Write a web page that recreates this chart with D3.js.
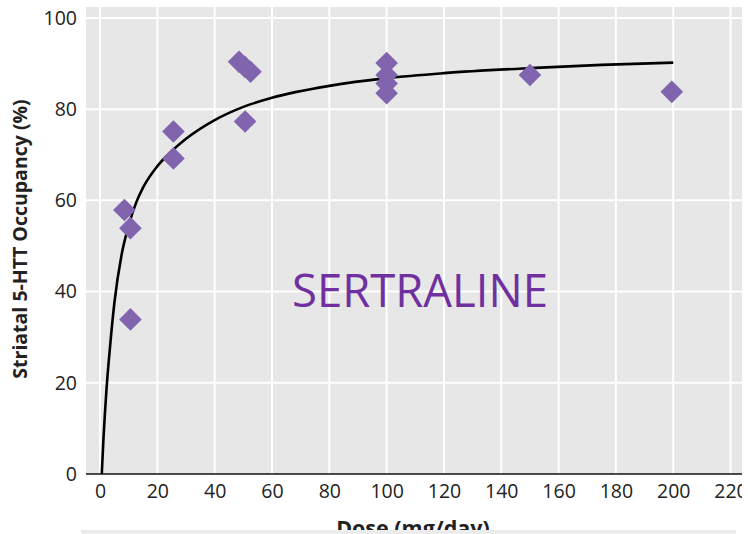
<!DOCTYPE html>
<html>
<head>
<meta charset="utf-8">
<script src="https://cdn.jsdelivr.net/npm/d3@7"></script>
<style>
  html, body { margin: 0; padding: 0; background: #ffffff; }
  svg { display: block; }
</style>
</head>
<body>
<svg id="chart" width="748" height="534"></svg>
<script>
// Sertraline dose vs. striatal 5-HTT occupancy
const doses     = [8.5, 10.6, 10.6, 25.6, 25.6, 48.5, 50.5, 52.5, 50.6, 100, 100, 100, 100, 150, 199.5];
const occupancy = [57.9, 53.9, 33.9, 75.1, 69.2, 90.4, 89.3, 88.2, 77.3, 90.1, 87.5, 85.6, 83.5, 87.5, 83.8];

// fitted occupancy curve, sampled along the dose axis
const curveDoses = [0.6, 1.2, 2.3, 3.5, 5, 7.5, 10, 12.6, 15, 20, 25, 30, 40, 50, 60, 80, 100, 120, 150, 175, 200];
const curveOcc   = [0, 7.8, 19, 28, 37.5, 48, 54.5, 59.5, 62.8, 67.5, 70.8, 73.5, 77.6, 80.5, 82.5, 85.1, 86.8, 87.9, 89.0, 89.7, 90.2];

const xTicks = [0, 20, 40, 60, 80, 100, 120, 140, 160, 180, 200, 220];
const yTicks = [0, 20, 40, 60, 80, 100];

const xTitle = "Dose (mg/day)";
const yTitle = "Striatal 5-HTT Occupancy (%)";
const drugLabel = "SERTRALINE";

const svg = d3.select("#chart");
const font = "'Open Sans', 'Noto Sans', sans-serif";

const panel = { left: 86, right: 742, top: 7, bottom: 474 };
const x = d3.scaleLinear().domain([-4.9, 224]).range([panel.left, panel.right]);
const y = d3.scaleLinear().domain([0, 102.4]).range([panel.bottom, panel.top]);

svg.append("defs").append("clipPath").attr("id", "clipRight")
  .append("rect").attr("x", 0).attr("y", 0).attr("width", panel.right).attr("height", 534);

const g = svg.append("g").attr("clip-path", "url(#clipRight)");

// panel background
g.append("rect")
  .attr("x", panel.left).attr("y", panel.top)
  .attr("width", panel.right - panel.left).attr("height", panel.bottom - panel.top)
  .attr("fill", "#e7e7e7");

// grid
g.append("g").selectAll("line").data(xTicks).join("line")
  .attr("x1", d => x(d)).attr("x2", d => x(d))
  .attr("y1", panel.top).attr("y2", panel.bottom)
  .attr("stroke", "#ffffff").attr("stroke-width", 2);
g.append("g").selectAll("line").data(yTicks.filter(d => d > 0)).join("line")
  .attr("x1", panel.left).attr("x2", panel.right)
  .attr("y1", d => y(d)).attr("y2", d => y(d))
  .attr("stroke", "#ffffff").attr("stroke-width", 2);

// x axis
const xAxis = g.append("g")
  .attr("transform", `translate(0,${panel.bottom})`)
  .call(d3.axisBottom(x).tickValues(xTicks).tickSize(0).tickPadding(8).tickFormat(d3.format("d")));
xAxis.select(".domain").remove();
xAxis.selectAll("text")
  .attr("font-family", font).attr("font-size", 19.5).attr("fill", "#222")
  .attr("dy", "0.72em").attr("y", 10);
g.append("line")
  .attr("x1", panel.left).attr("x2", panel.right)
  .attr("y1", panel.bottom).attr("y2", panel.bottom)
  .attr("stroke", "#111").attr("stroke-width", 1.6);

// y axis labels
const yAxis = g.append("g")
  .attr("transform", `translate(${panel.left},0)`)
  .call(d3.axisLeft(y).tickValues(yTicks).tickSize(0).tickPadding(9).tickFormat(d3.format("d")));
yAxis.select(".domain").remove();
yAxis.selectAll("text")
  .attr("font-family", font).attr("font-size", 19.5).attr("fill", "#222");

// drug name
g.append("text")
  .attr("x", 420).attr("y", 307)
  .attr("text-anchor", "middle")
  .attr("font-family", font).attr("font-size", 45)
  .attr("fill", "#7030a0")
  .attr("textLength", 256).attr("lengthAdjust", "spacingAndGlyphs")
  .text(drugLabel);

// fitted curve
const curvePts = curveDoses.map((d, i) => [d, curveOcc[i]]);
g.append("path")
  .datum(curvePts)
  .attr("fill", "none")
  .attr("stroke", "#000")
  .attr("stroke-width", 2.6)
  .attr("d", d3.line().x(d => x(d[0])).y(d => y(d[1])).curve(d3.curveMonotoneX));

// observations
const pts = doses.map((d, i) => [d, occupancy[i]]);
const diamond = d3.symbol(d3.symbolSquare, 256);
g.append("g").selectAll("path").data(pts).join("path")
  .attr("transform", d => `translate(${x(d[0])},${y(d[1])}) rotate(45)`)
  .attr("d", diamond)
  .attr("fill", "#8064ae");

// axis titles
svg.append("text")
  .attr("transform", "translate(27,239) rotate(-90)")
  .attr("text-anchor", "middle")
  .attr("font-family", font).attr("font-weight", "bold").attr("font-size", 19.5)
  .attr("fill", "#222")
  .text(yTitle);

svg.append("text")
  .attr("x", 413).attr("y", 536)
  .attr("text-anchor", "middle")
  .attr("font-family", font).attr("font-weight", "bold").attr("font-size", 21.5)
  .attr("fill", "#222")
  .text(xTitle);

// lower panel strip
svg.append("rect")
  .attr("x", 81).attr("y", 530)
  .attr("width", 655).attr("height", 4)
  .attr("fill", "#ececec");
</script>
</body>
</html>
